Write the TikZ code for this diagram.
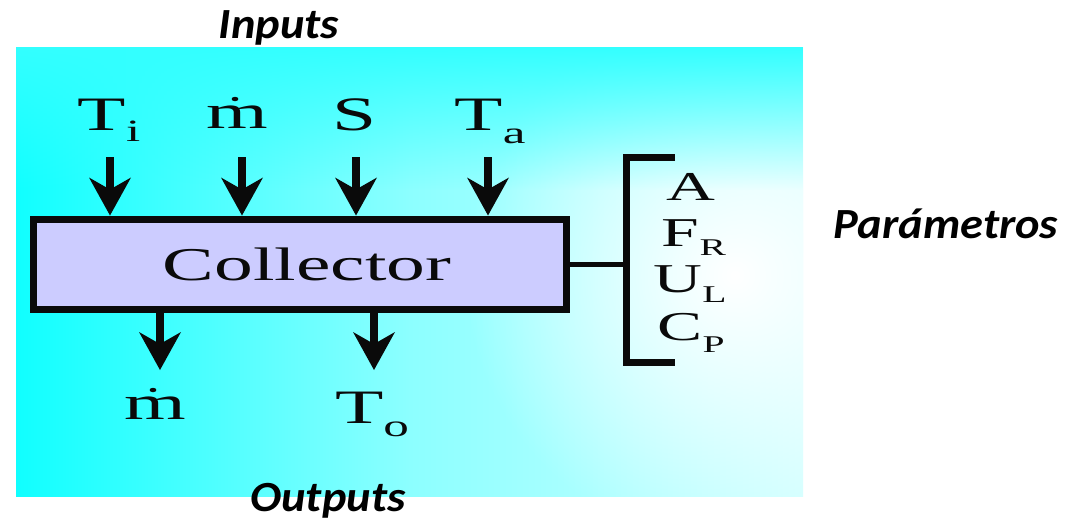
\documentclass[tikz,border=0pt]{standalone}
\usepackage{fontspec}
\setmainfont{Liberation Serif}
\newfontfamily\carl{Carlito}
\usetikzlibrary{arrows.meta,fadings}
\definecolor{bgL}{HTML}{10FFFF}
\definecolor{bgM}{HTML}{8CFFFF}
\definecolor{bgR}{HTML}{D0FFFF}
\definecolor{bgT}{HTML}{33FFFF}
\definecolor{boxfill}{HTML}{CCCCFF}
\definecolor{ink}{HTML}{0A0A0A}
\tikzfading[name=topfade, top color=transparent!0, bottom color=transparent!100]
\tikzfading[name=spotfade, inner color=transparent!0, outer color=transparent!100]
\newcommand\hsx[1]{\scalebox{1.65}[1]{#1}}
\newcommand\tsx[1]{\scalebox{1.08}[1]{#1}}
\newcommand\sbs[3]{\raisebox{-#1pt}{\fontsize{#2}{#2}\selectfont #3}}
\begin{document}
\begin{tikzpicture}[x=1pt,y=-1pt,
  lbl/.style={anchor=base, inner sep=0pt, text=ink, font=\fontsize{48}{48}\selectfont},
  parlbl/.style={anchor=base, inner sep=0pt, text=ink, font=\fontsize{41}{41}\selectfont},
  ttl/.style={anchor=base, inner sep=0pt, text=black, font=\carl\bfseries\itshape\fontsize{43}{43}\selectfont},
  arr/.style={draw=ink, line width=8pt, -{Stealth[length=38pt,width=42pt,inset=12pt,line width=0pt]}},
  collbox/.style={draw=ink, line width=7pt, fill=boxfill, minimum width=533pt, minimum height=90pt, inner sep=0pt, text=ink, font=\fontsize{47}{47}\selectfont},
  brack/.style={draw=ink, line width=7pt, line join=miter},
  mdot/.style={fill=ink}
]
\useasboundingbox (0,0) rectangle (1071,520);
% background
\begin{scope}
  \clip (16,47) rectangle (803,496);
  \shade[left color=bgL, right color=bgM] (16,47) rectangle (410,496);
  \shade[left color=bgM, right color=bgR] (410,47) rectangle (803,496);
  \fill[white, path fading=spotfade] (735,275) circle (270);
  \fill[bgT, path fading=topfade] (16,47) rectangle (803,190);
\end{scope}
% titles
\node[ttl] (inp) at (279,38) {\tsx{Inputs}};
\node[ttl] (outp) at (328,511) {\tsx{Outputs}};
\node[ttl] (par) at (946,238) {\tsx{Parámetros}};
% collector
\node[collbox] (box) at (299.5,264) {\hspace*{15pt}\raisebox{-4pt}{\hsx{Collector}}};
% inputs
\node[lbl] (Ti) at (109,130) {\hsx{T\sbs{11}{31}{i}}};
\node[lbl] (mi) at (237,128) {\hsx{m}};
\fill[mdot] (235,99) ellipse (3.4 and 2.2);
\node[lbl] (S) at (355,130) {\hsx{S}};
\node[lbl] (Ta) at (490,130) {\hsx{T\sbs{13}{31}{a}}};
\coordinate (a1) at (110,157);
\coordinate (a2) at (242,157);
\coordinate (a3) at (356,157);
\coordinate (a4) at (488,157);
\foreach \a in {a1,a2,a3,a4} \draw[arr] (\a) -- (\a |- box.north);
% outputs
\coordinate (b1) at (160,370);
\coordinate (b2) at (374,370);
\draw[arr] (box.south -| b1) -- (b1);
\draw[arr] (box.south -| b2) -- (b2);
\node[lbl] (mo) at (155,419) {\hsx{m}};
\fill[mdot] (153,390) ellipse (3.4 and 2.2);
\node[lbl] (To) at (372,423) {\hsx{T\sbs{13}{31}{o}}};
% parameters
\coordinate (brk) at (626,264);
\draw[brack] (675,157) -- (626,157) -- (626,362) -- (675,362);
\draw[draw=ink, line width=5pt] (box.east) -- (brk);
\node[parlbl] (pA) at (691,200) {\hsx{A}};
\node[parlbl] (pF) at (694,246) {\hsx{F\sbs{9}{24}{R}}};
\node[parlbl] (pU) at (690,292) {\hsx{U\sbs{10}{24}{L}}};
\node[parlbl] (pC) at (691,340) {\hsx{C\sbs{12}{24}{P}}};
\end{tikzpicture}
\end{document}
